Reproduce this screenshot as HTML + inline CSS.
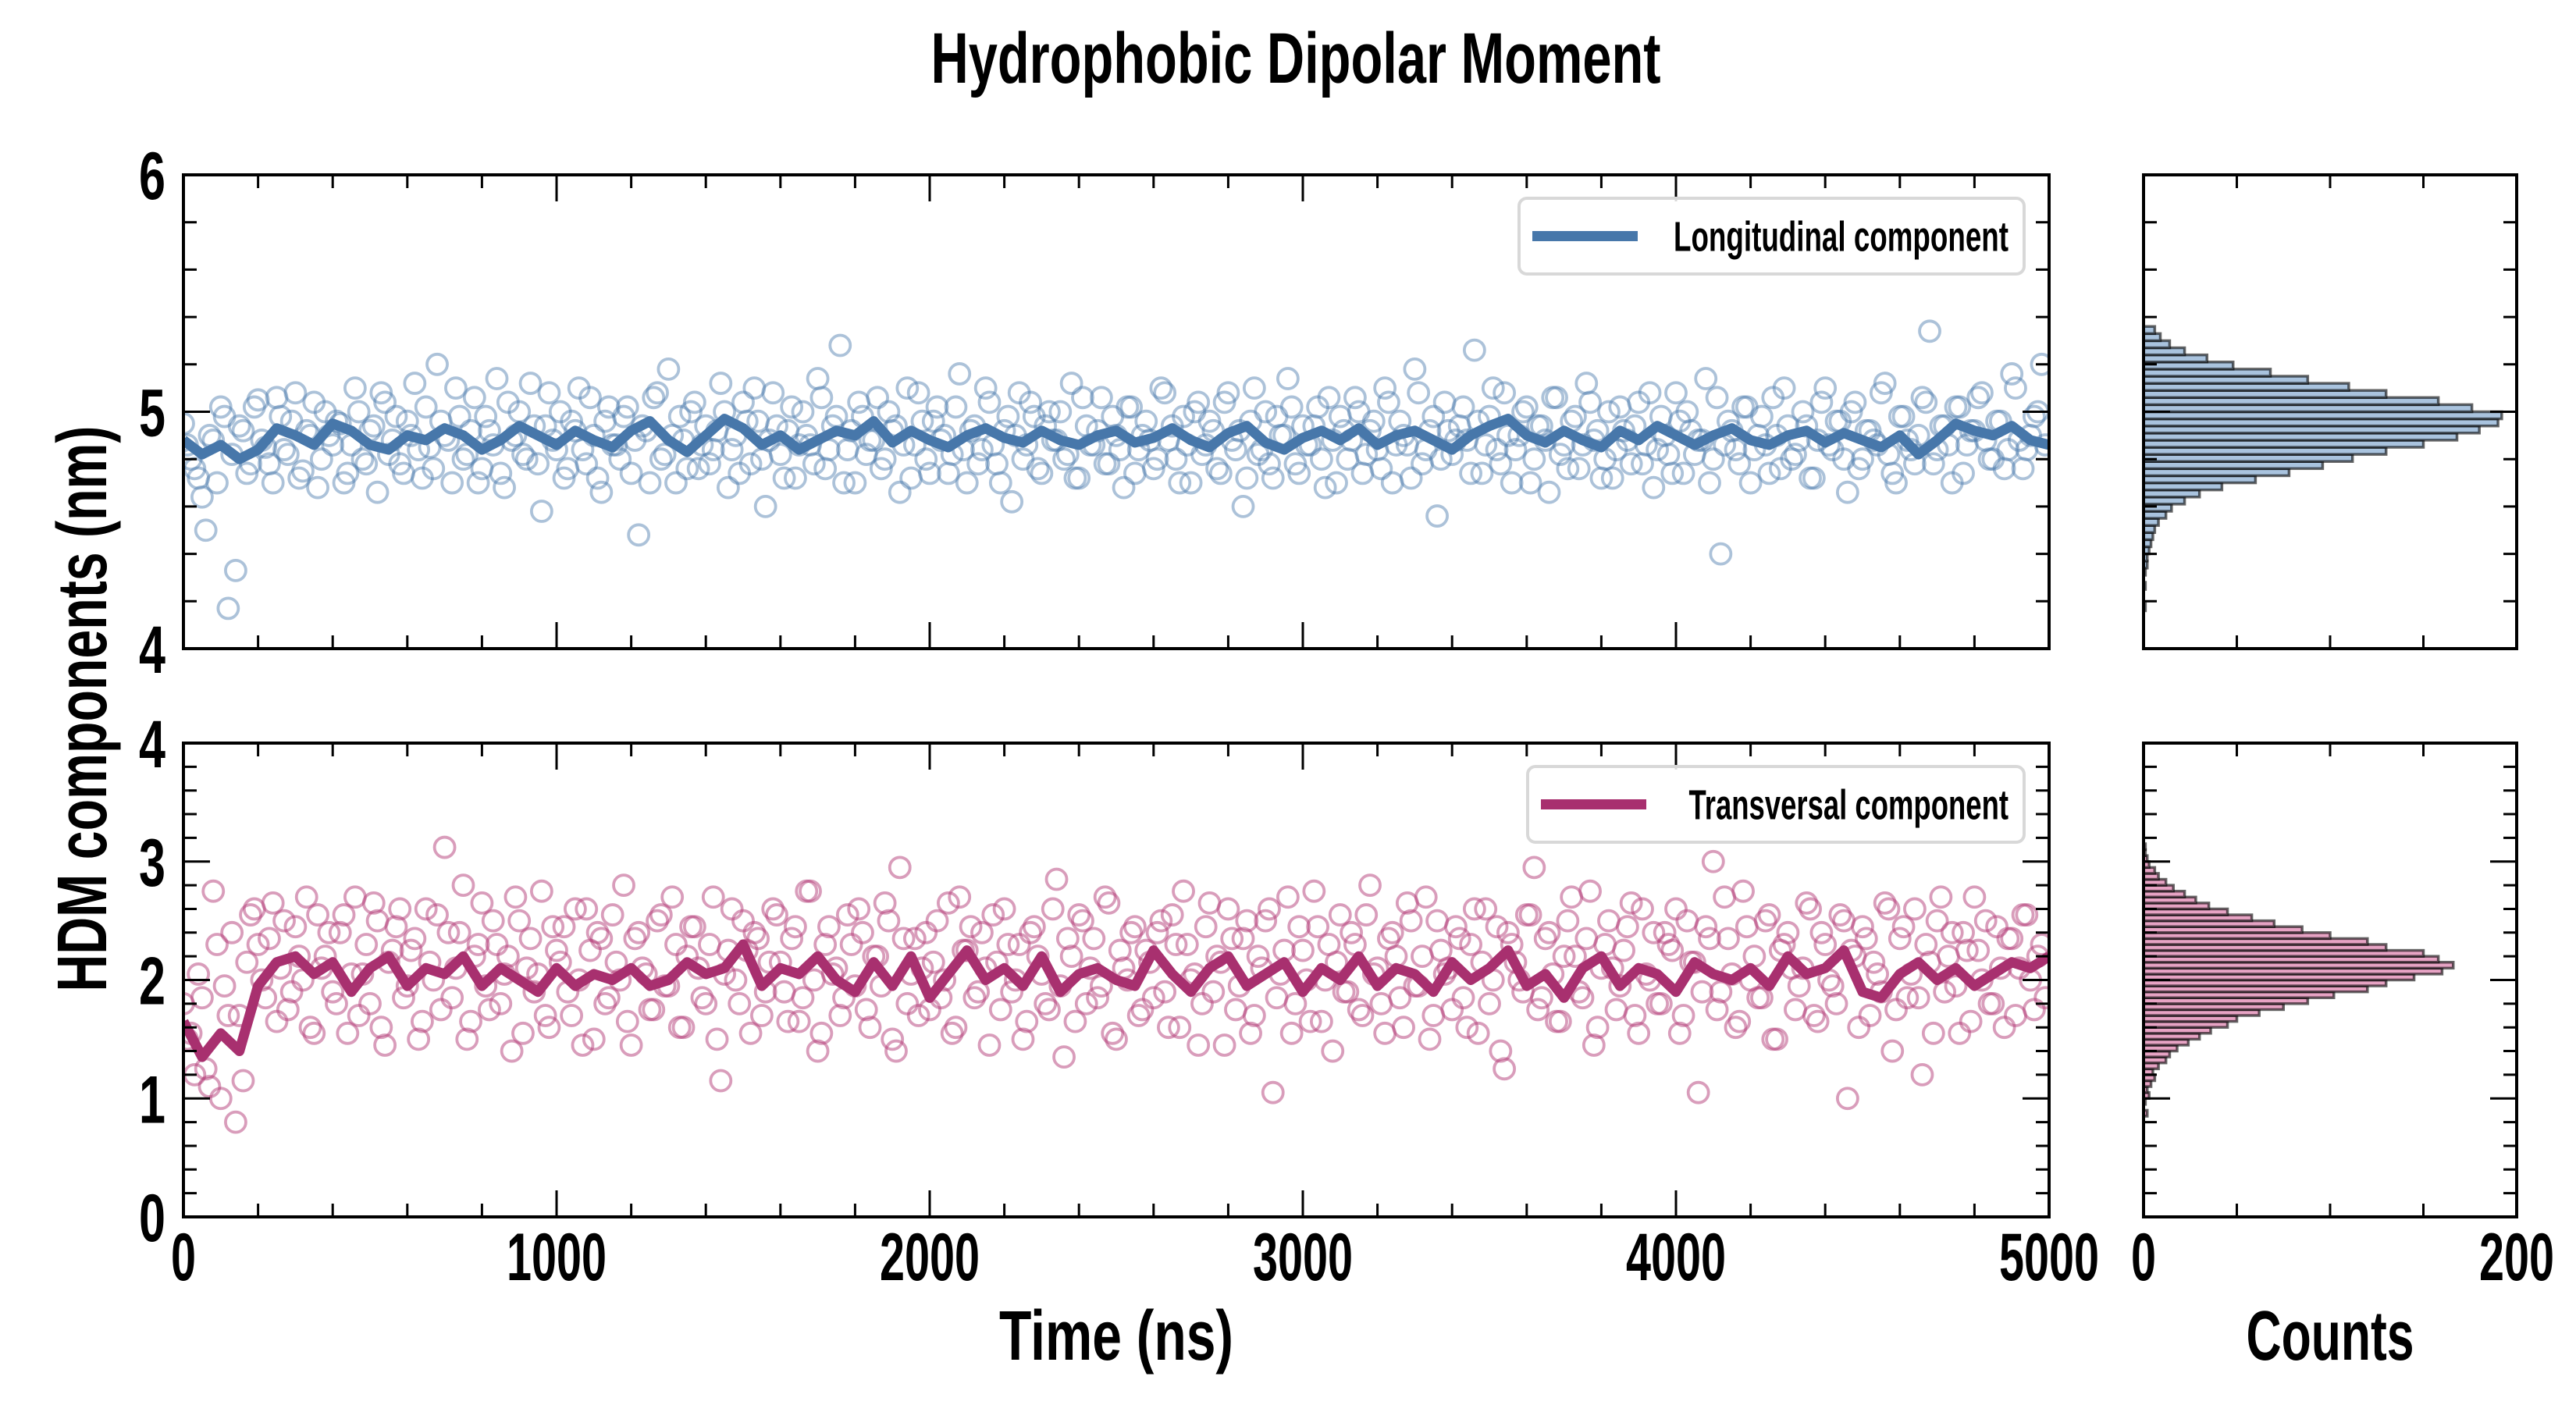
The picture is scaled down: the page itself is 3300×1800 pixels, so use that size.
<!DOCTYPE html>
<html><head><meta charset="utf-8"><title>Hydrophobic Dipolar Moment</title>
<style>
html,body{margin:0;padding:0;background:#fff;}
svg{display:block;}
text{font-family:"Liberation Sans Narrow","Liberation Sans",sans-serif;font-weight:bold;fill:#000;}
</style></head>
<body>
<svg id="chart" xmlns="http://www.w3.org/2000/svg" width="3300" height="1800" viewBox="0 0 3300 1800">
<rect x="0" y="0" width="3300" height="1800" fill="#fff"/>
<text x="1660" y="106" font-size="92" text-anchor="middle" textLength="935" lengthAdjust="spacingAndGlyphs">Hydrophobic Dipolar Moment</text>
<text x="0" y="0" font-size="90" text-anchor="middle" transform="translate(136,908) rotate(-90)" textLength="725" lengthAdjust="spacingAndGlyphs">HDM components (nm)</text>
<text x="1430" y="1742" font-size="90" text-anchor="middle" textLength="300" lengthAdjust="spacingAndGlyphs">Time (ns)</text>
<text x="2985" y="1742" font-size="90" text-anchor="middle" textLength="215" lengthAdjust="spacingAndGlyphs">Counts</text>
<g id="layer"></g>
</svg>
<script>
// ---- data ----
const timeStepLine = 50;   // ns between moving-average samples
const timeStepScatter = 20; // ns between scatter samples
const longLine = [4.88,4.82,4.86,4.80,4.84,4.93,4.90,4.86,4.95,4.92,4.86,4.84,4.90,4.88,4.93,4.90,4.84,4.88,4.94,4.90,4.86,4.92,4.88,4.85,4.92,4.96,4.88,4.83,4.90,4.97,4.93,4.86,4.90,4.84,4.88,4.92,4.90,4.96,4.87,4.92,4.88,4.85,4.90,4.93,4.89,4.87,4.92,4.88,4.86,4.90,4.92,4.87,4.89,4.93,4.88,4.85,4.91,4.94,4.87,4.84,4.89,4.92,4.88,4.93,4.86,4.90,4.92,4.88,4.84,4.90,4.94,4.97,4.90,4.87,4.92,4.88,4.85,4.92,4.88,4.94,4.90,4.86,4.90,4.93,4.88,4.86,4.90,4.92,4.87,4.91,4.88,4.85,4.90,4.82,4.88,4.95,4.92,4.90,4.94,4.88,4.86];
const transLine = [1.65,1.35,1.55,1.40,1.95,2.15,2.20,2.05,2.15,1.90,2.10,2.20,1.95,2.10,2.05,2.20,1.95,2.10,2.00,1.90,2.10,1.95,2.05,2.00,2.10,1.95,2.00,2.15,2.05,2.10,2.30,1.95,2.10,2.05,2.20,2.00,1.90,2.15,1.95,2.20,1.85,2.05,2.25,2.00,2.10,1.95,2.20,1.90,2.05,2.10,2.00,1.95,2.25,2.05,1.90,2.10,2.20,1.95,2.05,2.15,1.90,2.10,2.00,2.20,1.95,2.10,2.05,1.90,2.15,2.00,2.10,2.25,1.95,2.05,1.85,2.10,2.20,1.95,2.10,2.05,1.90,2.15,2.05,2.00,2.10,1.95,2.20,2.05,2.10,2.25,1.90,1.85,2.05,2.15,2.00,2.10,1.95,2.05,2.15,2.10,2.20];
const longPoints = [4.95,4.80,4.72,4.50,4.88,5.02,4.17,4.33,4.92,4.78,5.05,4.85,4.70,4.98,4.82,5.08,4.75,4.90,4.68,5.00,4.86,4.95,4.74,5.10,4.80,4.92,4.66,5.04,4.88,4.78,4.96,5.12,4.72,4.85,5.20,4.90,4.70,4.98,4.82,5.06,4.76,4.92,5.14,4.68,4.88,5.00,4.80,4.94,4.58,5.08,4.84,4.72,4.96,5.10,4.78,4.90,4.66,5.02,4.86,4.98,4.74,4.48,4.92,5.06,4.80,5.18,4.70,4.88,5.00,4.76,4.94,4.84,5.12,4.68,4.90,5.04,4.78,4.96,4.60,5.08,4.82,4.92,4.72,5.00,4.86,5.14,4.76,4.94,5.28,4.84,4.70,4.98,4.88,5.06,4.80,4.92,4.66,5.10,4.86,4.96,4.74,5.02,4.90,4.82,5.16,4.70,4.94,4.84,5.04,4.78,4.92,4.62,5.08,4.86,4.98,4.74,5.00,4.88,4.80,5.12,4.72,4.94,4.86,5.06,4.78,4.90,4.68,5.02,4.84,4.96,4.76,5.10,4.88,4.80,4.98,4.70,5.04,4.86,4.92,4.74,5.08,4.84,4.60,4.96,4.82,5.00,4.72,4.90,5.14,4.78,4.94,4.86,5.02,4.68,4.88,4.98,4.80,5.06,4.74,4.92,4.84,5.10,4.70,4.96,4.86,5.18,4.78,4.92,4.56,5.04,4.82,4.94,4.88,5.26,4.74,4.98,4.84,5.08,4.70,4.90,5.02,4.80,4.94,4.66,5.06,4.86,4.96,4.76,5.12,4.88,4.72,5.00,4.84,4.92,4.78,5.04,4.86,4.68,4.98,4.82,5.08,4.74,4.92,4.88,5.14,4.80,4.40,4.96,4.84,5.02,4.70,4.90,4.86,5.06,4.76,4.94,4.82,5.00,4.72,4.88,5.10,4.84,4.96,4.66,5.04,4.80,4.92,4.86,5.12,4.74,4.98,4.88,4.78,5.06,5.34,4.84,4.94,4.70,5.02,4.86,4.92,5.08,4.80,4.96,4.76,5.16,4.88,4.84,4.98,5.20];
const longPoints2 = [4.86,4.76,4.64,4.90,4.70,4.98,4.82,4.94,4.74,5.02,4.88,4.78,5.06,4.84,4.96,4.72,4.92,5.04,4.80,4.90,4.96,4.70,4.86,5.00,4.78,4.94,5.08,4.82,4.98,4.74,4.90,4.84,5.02,4.76,4.96,4.88,5.10,4.80,4.92,4.70,4.98,4.86,4.74,5.04,4.90,4.82,5.12,4.78,4.94,4.88,5.00,4.76,4.92,4.84,5.06,4.72,4.96,4.86,4.80,5.02,4.88,4.94,4.70,5.08,4.82,4.90,4.98,4.76,5.04,4.86,4.78,4.92,5.00,4.84,4.74,4.96,5.10,4.80,4.88,4.94,4.72,5.02,4.86,4.90,4.78,5.06,4.84,4.98,4.70,4.92,5.04,4.82,4.88,4.76,5.00,4.94,4.86,4.72,5.08,4.80,4.96,4.88,4.74,5.02,4.84,4.92,4.78,5.10,4.86,4.70,4.98,4.90,4.80,5.04,4.76,4.94,4.88,5.00,4.82,4.72,5.06,4.86,4.92,4.78,4.98,4.84,5.02,4.74,4.90,4.88,4.80,5.08,4.94,4.70,4.86,5.00,4.82,4.96,4.76,5.04,4.88,4.92,4.72,5.10,4.84,4.78,4.98,4.90,5.02,4.74,4.86,4.94,4.80,5.06,4.70,4.92,4.88,5.00,4.82,4.96,4.76,5.04,4.86,4.90,4.72,5.08,4.84,4.98,4.80,4.92,4.88,5.02,4.74,4.96,4.86,5.10,4.78,4.90,4.84,5.00,4.70,4.94,4.88,5.06,4.82,4.76,4.98,4.86,5.04,4.92,4.80,4.72,5.02,4.88,4.94,4.78,5.08,4.84,4.90,4.74,4.96,5.00,4.82,4.88,4.70,5.06,4.86,4.92,4.78,5.02,4.84,4.98,4.74,4.90,5.10,4.80,4.88,4.94,4.72,5.04,4.86,4.96,4.80,5.00,4.76,4.92,4.88,5.08,4.82,4.70,4.98,4.84,4.90,5.04,4.78,4.94,4.86,5.02,4.74,4.92,5.06,4.88,4.80,4.96,4.84,5.10,4.76,4.90,5.00,4.86];
const transPoints = [1.80,1.55,2.05,1.25,2.75,1.00,1.70,0.80,1.15,2.55,2.30,1.85,2.65,2.10,1.75,2.45,2.00,1.60,2.55,2.20,1.90,2.40,1.55,2.70,2.05,1.80,2.50,1.45,2.25,2.60,1.95,2.35,1.65,2.15,2.55,3.12,1.85,2.40,1.50,2.20,2.65,1.75,2.30,2.05,1.40,2.50,2.10,1.90,2.75,1.60,2.25,2.45,1.70,2.00,2.60,1.50,2.35,1.85,2.15,2.80,1.45,2.40,2.05,1.75,2.55,1.95,2.30,1.60,2.45,2.10,1.80,2.70,1.15,2.25,2.00,2.50,1.55,2.35,1.90,2.60,2.15,1.65,2.45,1.85,2.75,1.40,2.30,2.05,1.70,2.55,1.95,2.40,1.60,2.20,2.65,1.50,2.95,1.80,2.35,2.10,1.75,2.50,2.00,1.55,2.70,2.25,1.85,2.40,1.45,2.15,2.60,1.90,2.30,1.65,2.45,2.05,1.75,2.85,1.35,2.20,2.55,1.80,2.35,1.95,2.65,1.50,2.10,2.40,1.70,2.25,1.85,2.50,1.60,2.30,2.75,2.00,1.45,2.45,1.90,2.15,2.60,1.75,2.35,1.55,2.20,2.50,1.05,2.05,2.70,1.80,2.25,1.65,2.45,2.00,1.40,2.55,1.90,2.30,1.70,2.80,2.10,1.55,2.40,1.85,2.65,1.95,2.20,1.50,2.50,2.05,1.75,2.35,1.60,2.60,2.15,1.80,2.45,1.25,2.30,2.00,2.55,2.95,1.85,2.40,1.65,2.20,2.70,1.90,2.35,1.45,2.10,2.50,1.75,2.25,2.65,1.55,2.05,2.40,1.80,2.30,2.60,1.70,2.15,1.05,2.45,3.00,1.90,2.35,1.60,2.75,2.00,1.85,2.50,1.50,2.25,2.40,1.75,2.10,2.60,1.65,2.30,1.95,2.55,1.00,2.20,2.45,1.70,2.05,2.65,1.40,2.35,1.85,2.60,1.20,2.15,2.50,1.90,2.40,1.55,2.25,2.70,2.00,1.80,2.45,1.60,2.35,2.10,2.55,1.75,2.30];
const transPoints2 = [1.50,1.20,1.85,1.10,2.30,1.95,2.40,1.70,2.15,2.60,2.00,2.35,1.65,2.50,1.90,2.20,2.70,1.55,2.10,2.40,1.80,2.55,2.05,1.70,2.30,2.65,1.60,2.15,2.45,1.85,2.25,1.50,2.60,2.00,1.75,2.40,2.10,2.80,1.65,2.30,1.95,2.50,1.80,2.20,2.70,1.55,2.35,2.05,1.70,2.45,2.15,1.90,2.60,1.45,2.25,2.40,1.80,2.55,2.00,1.65,2.35,2.10,1.75,2.50,1.95,2.70,1.60,2.20,2.45,1.85,2.30,1.50,2.05,2.60,1.80,2.25,2.40,1.70,2.15,2.55,1.90,2.35,1.65,2.75,2.00,1.55,2.45,2.10,1.85,2.30,2.60,1.75,2.20,1.95,2.50,1.40,2.35,2.05,1.70,2.40,2.15,1.85,2.65,1.60,2.25,2.45,1.90,2.10,2.55,1.75,2.30,2.00,1.50,2.40,2.20,1.80,2.60,1.95,2.35,1.65,2.50,2.10,1.85,2.70,1.55,2.25,2.00,2.45,1.75,2.15,2.40,1.90,2.55,1.60,2.30,2.05,1.80,2.65,2.20,1.45,2.35,1.95,2.50,1.70,2.10,2.60,1.85,2.25,1.55,2.45,2.00,2.75,1.65,2.30,2.15,1.90,2.40,1.75,2.55,2.05,1.80,2.35,2.20,1.60,2.50,1.95,2.70,1.70,2.25,2.10,2.45,1.85,2.30,1.55,2.60,2.00,1.40,2.40,2.15,1.90,2.55,1.75,2.35,2.05,1.65,2.50,2.20,1.85,2.75,1.60,2.30,2.10,1.95,2.45,1.70,2.60,2.00,1.80,2.40,2.25,1.55,2.50,2.15,1.90,2.35,1.75,2.70,2.05,1.65,2.45,2.20,1.85,2.55,1.50,2.30,2.10,1.95,2.65,1.70,2.40,2.00,1.80,2.50,2.25,1.60,2.35,2.15,1.90,2.60,1.75,2.45,2.05,1.85,2.30,1.55,2.70,2.20,1.95,2.40,1.65,2.25,2.50,1.80,2.10,2.35,1.70,2.55,2.00,2.20,1.85];
const longBinStart = 4.16, longBinWidth = 0.03;
const longCounts = [1,0,0,1,0,1,2,2,3,4,5,6,8,12,15,22,30,42,60,78,96,112,130,150,168,180,190,192,176,158,130,110,88,68,48,34,22,14,9,6];
const transBinStart = 0.85, transBinWidth = 0.05;
const transCounts = [2,0,1,3,2,4,6,5,8,12,14,18,24,30,36,45,50,62,75,88,102,120,130,145,160,166,158,150,130,120,100,85,70,58,45,35,28,22,16,12,8,6,3,2,1,1];
const xTickLabels = ["0","1000","2000","3000","4000","5000"];
const histTickLabels = ["0","200"];

// ---- layout ----
const NS='http://www.w3.org/2000/svg';
const layer=document.getElementById('layer');
const MX0=235,MX1=2625,HX0=2746,HX1=3224;
const panels=[
 {name:'longitudinal',y0:224,y1:831,ymin:4,ymax:6,line:longLine,pts:longPoints,pts2:longPoints2,counts:longCounts,bs:longBinStart,bw:longBinWidth,
  lc:'#4777aa',pc:'rgba(71,119,170,0.45)',hf:'#a9c3de',label:'Longitudinal component',yLabels:["4","5","6"],lg:{x:1946,y:254,w:647,h:97}},
 {name:'transversal',y0:952,y1:1559,ymin:0,ymax:4,line:transLine,pts:transPoints,pts2:transPoints2,counts:transCounts,bs:transBinStart,bw:transBinWidth,
  lc:'#a8306f',pc:'rgba(180,60,120,0.5)',hf:'#e7a3c4',label:'Transversal component',yLabels:["0","1","2","3","4"],lg:{x:1957,y:982,w:636,h:97}}
];
const xScale=t=>MX0+(t/5000)*(MX1-MX0);
const hScale=c=>HX0+(c/200)*(HX1-HX0);
function mk(tag,attrs,parent){const e=document.createElementNS(NS,tag);for(const k in attrs)e.setAttribute(k,attrs[k]);(parent||layer).appendChild(e);return e;}

panels.forEach((p,pi)=>{
 const yScale=v=>p.y1-(v-p.ymin)/(p.ymax-p.ymin)*(p.y1-p.y0);
 const g=mk('g',{});
 
 
 const clipId='clip'+pi;
 const cp=mk('clipPath',{id:clipId},g);
 mk('rect',{x:MX0,y:p.y0,width:MX1-MX0,height:p.y1-p.y0},cp);
 const data=mk('g',{'clip-path':'url(#'+clipId+')'},g);
 [[p.pts,0],[p.pts2,10]].forEach(([arr,off])=>{
  arr.forEach((v,i)=>{
   const c=mk('circle',{cx:xScale(off+i*timeStepScatter),cy:yScale(v),r:13,fill:'none',stroke:p.pc,'stroke-width':3.8},data);
   
   
  });
 });
 const d=p.line.map((v,i)=>(i?'L':'M')+xScale(i*timeStepLine).toFixed(1)+','+yScale(v).toFixed(1)).join('');
 const ln=mk('path',{d:d,fill:'none',stroke:p.lc,'stroke-width':13,'stroke-linejoin':'round'},data);
 
 
 // histogram
 const hg=mk('g',{},g);
 
 
 p.counts.forEach((c,i)=>{
  const lo=p.bs+i*p.bw,hi=lo+p.bw;
  if(c<=0)return;
  const r=mk('rect',{x:HX0,y:yScale(hi),width:hScale(c)-HX0,height:yScale(lo)-yScale(hi),fill:p.hf,stroke:'rgba(0,0,0,0.6)','stroke-width':3.5},hg);
  
  
 });
 // axes frames
 [[MX0,MX1],[HX0,HX1]].forEach(([a,b],k)=>{
  const fr=mk('rect',{x:a,y:p.y0,width:b-a,height:p.y1-p.y0,fill:'none',stroke:'#000','stroke-width':4},g);
  
  
  const nMinor=Math.round((p.ymax-p.ymin)/0.2);
  for(let j=0;j<=nMinor;j++){
   const v=p.ymin+j*0.2,y=yScale(v);
   const major=Math.abs(v-Math.round(v))<1e-6;
   const L=major?34:17;
   mk('line',{x1:a,x2:a+L,y1:y,y2:y,stroke:'#000','stroke-width':3},g);
   mk('line',{x1:b,x2:b-L,y1:y,y2:y,stroke:'#000','stroke-width':3},g);
  }
 });
 for(let t=0;t<=5000;t+=200){
  const x=xScale(t),L=(t%1000===0)?34:17;
  mk('line',{x1:x,x2:x,y1:p.y1,y2:p.y1-L,stroke:'#000','stroke-width':3},g);
  mk('line',{x1:x,x2:x,y1:p.y0,y2:p.y0+L,stroke:'#000','stroke-width':3},g);
 }
 for(let c=0;c<=200;c+=50){
  const x=hScale(c);
  mk('line',{x1:x,x2:x,y1:p.y1,y2:p.y1-17,stroke:'#000','stroke-width':3},g);
  mk('line',{x1:x,x2:x,y1:p.y0,y2:p.y0+17,stroke:'#000','stroke-width':3},g);
 }
 p.yLabels.forEach(s=>{
  const t=mk('text',{x:212,y:yScale(parseFloat(s))+31,'font-size':86,'text-anchor':'end',textLength:s.length*34,lengthAdjust:'spacingAndGlyphs'},g);
  t.textContent=s;
  
  
 });
 const lg=mk('g',{},g);
 
 
 mk('rect',{x:p.lg.x,y:p.lg.y,width:p.lg.w,height:p.lg.h,rx:10,fill:'rgba(255,255,255,0.85)',stroke:'#d8d8d8','stroke-width':4},lg);
 mk('line',{x1:p.lg.x+17,x2:p.lg.x+152,y1:p.lg.y+p.lg.h/2,y2:p.lg.y+p.lg.h/2,stroke:p.lc,'stroke-width':13},lg);
 const lt=mk('text',{x:p.lg.x+p.lg.w-20,y:p.lg.y+p.lg.h/2+19,'font-size':54,'text-anchor':'end',textLength:p.label.length*19.5,lengthAdjust:'spacingAndGlyphs'},lg);
 lt.textContent=p.label;
});
xTickLabels.forEach(s=>{
 const t=mk('text',{x:xScale(parseFloat(s)),y:1640,'font-size':86,'text-anchor':'middle',textLength:s.length*32,lengthAdjust:'spacingAndGlyphs'});
 t.textContent=s;
 
 
});
histTickLabels.forEach(s=>{
 const t=mk('text',{x:hScale(parseFloat(s)),y:1640,'font-size':86,'text-anchor':'middle',textLength:s.length*32,lengthAdjust:'spacingAndGlyphs'});
 t.textContent=s;
 
 
});
</script>
</body></html>
